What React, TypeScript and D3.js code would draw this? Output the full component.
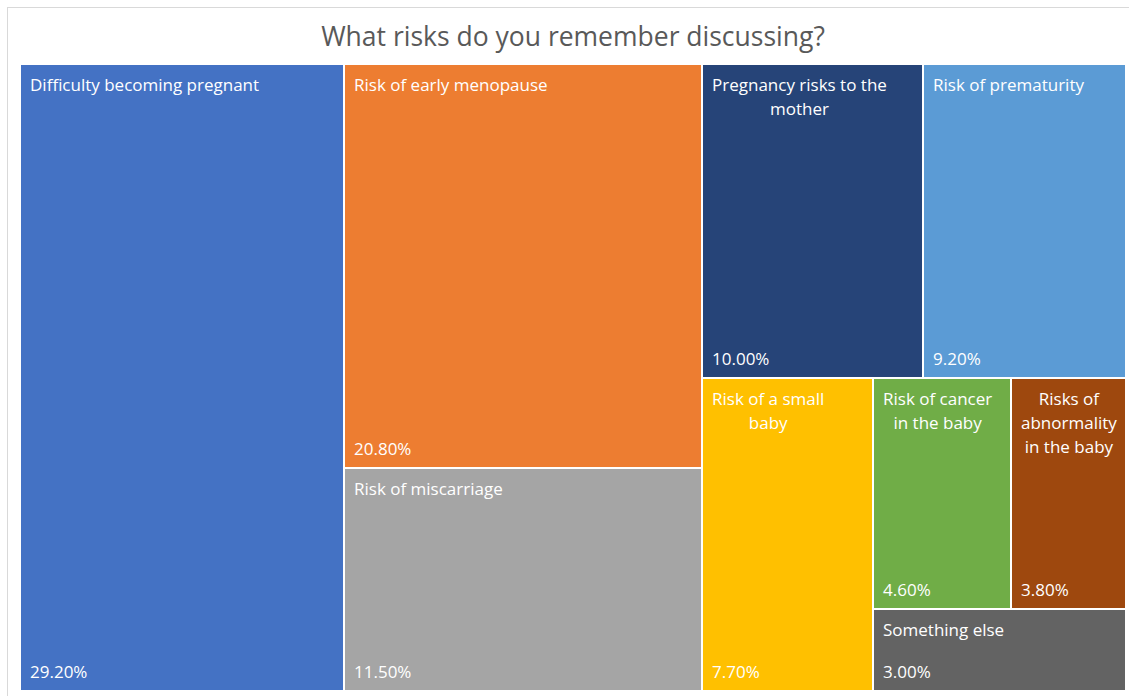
import React, { useEffect, useRef } from 'react';
import * as d3 from 'd3';

const categories = [
  'Difficulty becoming pregnant',
  'Risk of early menopause',
  'Risk of miscarriage',
  'Pregnancy risks to the mother',
  'Risk of prematurity',
  'Risk of a small baby',
  'Risk of cancer in the baby',
  'Risks of abnormality in the baby',
  'Something else',
];
const values = [29.2, 20.8, 11.5, 10.0, 9.2, 7.7, 4.6, 3.8, 3.0];
const colors = [
  '#4472C4',
  '#ED7D31',
  '#A5A5A5',
  '#264478',
  '#5B9BD5',
  '#FFC000',
  '#70AD47',
  '#9E480E',
  '#636363',
];
const title = 'What risks do you remember discussing?';

interface Leaf {
  name: string;
  value: number;
  color: string;
}

// squarified tiling, a bit lenient on ties (like Excel's)
function squarifyTile(parent: any, x0: number, y0: number, x1: number, y1: number) {
  const nodes = parent.children;
  const n = nodes.length;
  let remaining = parent.value;
  let i0 = 0;
  while (i0 < n) {
    const dx = x1 - x0;
    const dy = y1 - y0;
    const k = (dx * dy) / remaining;
    const side = Math.min(dx, dy);
    const worst = (s: number, m: number, M: number) => {
      const t = (s * k) / side;
      return Math.max((M * k) / t / t, t / ((m * k) / t));
    };
    let sum = nodes[i0].value;
    let m = sum;
    let M = sum;
    let best = worst(sum, m, M);
    let i1 = i0 + 1;
    while (i1 < n) {
      const v = nodes[i1].value;
      const ns = sum + v;
      const nm = Math.min(m, v);
      const nM = Math.max(M, v);
      const r = worst(ns, nm, nM);
      if (r > best * 1.002) break;
      sum = ns;
      m = nm;
      M = nM;
      best = r;
      i1++;
    }
    const t = (sum * k) / side;
    let pos = dx >= dy ? y0 : x0;
    for (let i = i0; i < i1; i++) {
      const node = nodes[i];
      const len = (node.value * k) / t;
      if (dx >= dy) {
        node.x0 = x0;
        node.x1 = x0 + t;
        node.y0 = pos;
        node.y1 = i === i1 - 1 ? y1 : pos + len;
      } else {
        node.y0 = y0;
        node.y1 = y0 + t;
        node.x0 = pos;
        node.x1 = i === i1 - 1 ? x1 : pos + len;
      }
      pos += len;
    }
    if (dx >= dy) x0 += t;
    else y0 += t;
    remaining -= sum;
    i0 = i1;
  }
}

export default function App() {
  const svgRef = useRef<SVGSVGElement | null>(null);
  const width = 1129;
  const height = 696;
  const plot = { left: 21, top: 65, right: 1125, bottom: 690 };

  useEffect(() => {
    const svg = d3.select(svgRef.current!);
    svg.selectAll('*').remove();

    svg
      .append('rect')
      .attr('x', 7.5)
      .attr('y', 7.5)
      .attr('width', 1125)
      .attr('height', 690)
      .attr('fill', '#fff')
      .attr('stroke', '#d9d9d9');

    const font = '"Open Sans", Lato, sans-serif';
    const fs = 17;

    svg
      .append('text')
      .attr('x', 573)
      .attr('y', 46)
      .attr('text-anchor', 'middle')
      .attr('font-family', font)
      .attr('font-size', 26.5)
      .attr('fill', '#595959')
      .text(title);

    const leaves: Leaf[] = categories.map((name, i) => ({ name, value: values[i], color: colors[i] }));
    const root = d3
      .hierarchy<any>({ children: leaves })
      .sum((d: any) => d.value || 0)
      .sort((a, b) => (b.value || 0) - (a.value || 0));

    d3
      .treemap<any>()
      .tile(squarifyTile)
      .size([plot.right - plot.left, plot.bottom - plot.top])
      .paddingInner(2)
      .round(true)(root);

    const g = svg.append('g').attr('transform', `translate(${plot.left},${plot.top})`);
    const cells = g
      .selectAll('g.cell')
      .data(root.leaves() as d3.HierarchyRectangularNode<any>[])
      .join('g')
      .attr('class', 'cell')
      .attr('transform', (d) => `translate(${d.x0},${d.y0})`);

    cells
      .append('rect')
      .attr('width', (d) => d.x1 - d.x0)
      .attr('height', (d) => d.y1 - d.y0)
      .attr('fill', (d) => d.data.color);

    cells.each(function (d) {
      const cell = d3.select(this);
      const w = d.x1 - d.x0;
      const h = d.y1 - d.y0;
      const maxW = w * 0.84;

      // wrap label into lines
      const probe = cell
        .append('text')
        .attr('font-family', font)
        .attr('font-size', fs)
        .attr('visibility', 'hidden');
      const measure = (s: string) => {
        probe.text(s);
        return (probe.node() as SVGTextElement).getComputedTextLength();
      };
      const words = (d.data.name as string).split(' ');
      const lines: string[] = [];
      let cur = '';
      words.forEach((wd) => {
        const next = cur ? cur + ' ' + wd : wd;
        if (cur && measure(next) > maxW) {
          lines.push(cur);
          cur = wd;
        } else {
          cur = next;
        }
      });
      if (cur) lines.push(cur);
      const blockW = d3.max(lines, (l) => measure(l)) || 0;
      probe.remove();

      const multi = lines.length > 1;
      const label = cell
        .append('text')
        .attr('font-family', font)
        .attr('font-size', fs)
        .attr('fill', '#fff')
        .attr('text-anchor', multi ? 'middle' : 'start');
      lines.forEach((l, i) => {
        label
          .append('tspan')
          .attr('x', multi ? 9 + blockW / 2 : 9)
          .attr('y', 26 + i * 24)
          .text(l);
      });

      cell
        .append('text')
        .attr('font-family', font)
        .attr('font-size', fs)
        .attr('fill', '#fff')
        .attr('x', 9)
        .attr('y', h - 12)
        .text(d3.format('.2f')(d.data.value) + '%');
    });
  }, []);

  return (
    <svg
      ref={svgRef}
      width={width}
      height={height}
      style={{ position: 'absolute', left: 0, top: 0, background: '#fff' }}
    />
  );
}
